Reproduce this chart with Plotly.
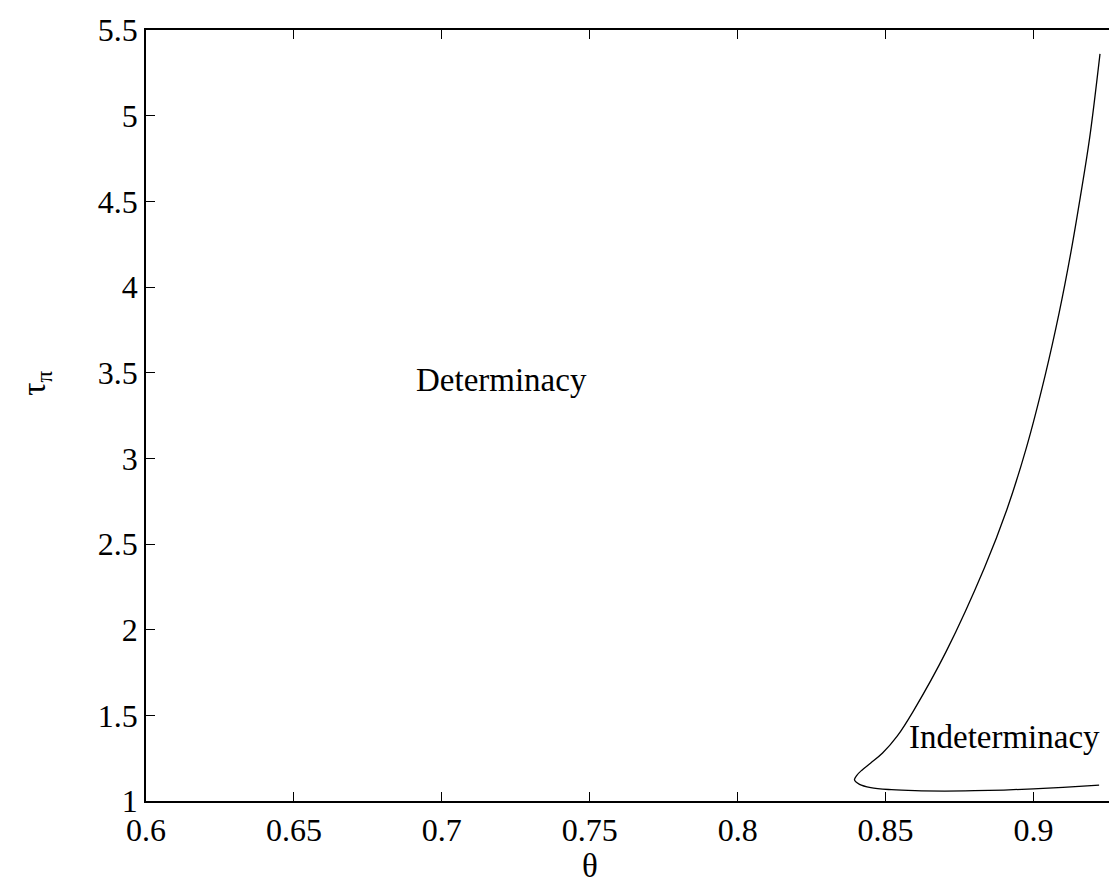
import plotly.graph_objects as go

# Boundary curve (theta, tau_pi)
theta_lower = [0.9222, 0.910, 0.900, 0.890, 0.880, 0.870, 0.860, 0.852, 0.845, 0.8412, 0.8395]
tau_lower = [1.093, 1.080, 1.071, 1.064, 1.060, 1.058, 1.060, 1.066, 1.078, 1.097, 1.123]
theta_upper = [0.8395, 0.8403, 0.8420, 0.8450, 0.8490, 0.8540, 0.8594, 0.8706, 0.8834,
               0.8910, 0.8976, 0.9040, 0.9087, 0.9125, 0.9158, 0.9190, 0.9225]
tau_upper = [1.123, 1.150, 1.180, 1.222, 1.280, 1.380, 1.525, 1.876, 2.360,
             2.700, 3.061, 3.487, 3.850, 4.187, 4.520, 4.870, 5.361]

x_ticks = [0.6, 0.65, 0.7, 0.75, 0.8, 0.85, 0.9]
x_tick_labels = ["0.6", "0.65", "0.7", "0.75", "0.8", "0.85", "0.9"]
y_ticks = [1, 1.5, 2, 2.5, 3, 3.5, 4, 4.5, 5, 5.5]
y_tick_labels = ["1", "1.5", "2", "2.5", "3", "3.5", "4", "4.5", "5", "5.5"]

region_labels = ["Determinacy", "Indeterminacy"]
region_x = [0.7201, 0.8903]
region_y = [3.458, 1.375]

FONT = "Liberation Serif"

fig = go.Figure()
fig.add_trace(go.Scatter(
    x=theta_lower + theta_upper[1:],
    y=tau_lower + tau_upper[1:],
    mode="lines",
    line=dict(color="black", width=1.3, shape="spline", smoothing=1.0),
    showlegend=False,
    hoverinfo="skip",
))

for t, xx, yy in zip(region_labels, region_x, region_y):
    fig.add_annotation(x=xx, y=yy, text=t, showarrow=False,
                       font=dict(family=FONT, size=33, color="black"),
                       xanchor="center", yanchor="middle")

# axis labels
fig.add_annotation(x=0.75, xref="x", y=-0.084, yref="paper", text="θ", showarrow=False,
                   font=dict(family=FONT, size=33, color="black"),
                   xanchor="center", yanchor="middle")
fig.add_annotation(x=-0.112, xref="paper", y=3.44, yref="y", text="τ<sub>π</sub>",
                   showarrow=False, textangle=-90,
                   font=dict(family=FONT, size=33, color="black"),
                   xanchor="center", yanchor="middle")

axis_common = dict(
    showline=True, linecolor="black", linewidth=1.5, mirror="ticks",
    ticks="inside", ticklen=9, tickwidth=1, tickcolor="black",
    showgrid=False, zeroline=False,
    tickfont=dict(family=FONT, size=32, color="black"),
)

fig.update_xaxes(range=[0.6, 0.9296], tickvals=x_ticks, ticktext=x_tick_labels, **axis_common)
fig.update_yaxes(range=[1, 5.5], tickvals=y_ticks, ticktext=y_tick_labels, **axis_common)

fig.update_layout(
    width=1117, height=885,
    margin=dict(l=138, r=2, t=22, b=92),
    plot_bgcolor="white", paper_bgcolor="white",
    font=dict(family=FONT, color="black"),
)

fig.write_html("out.html")
